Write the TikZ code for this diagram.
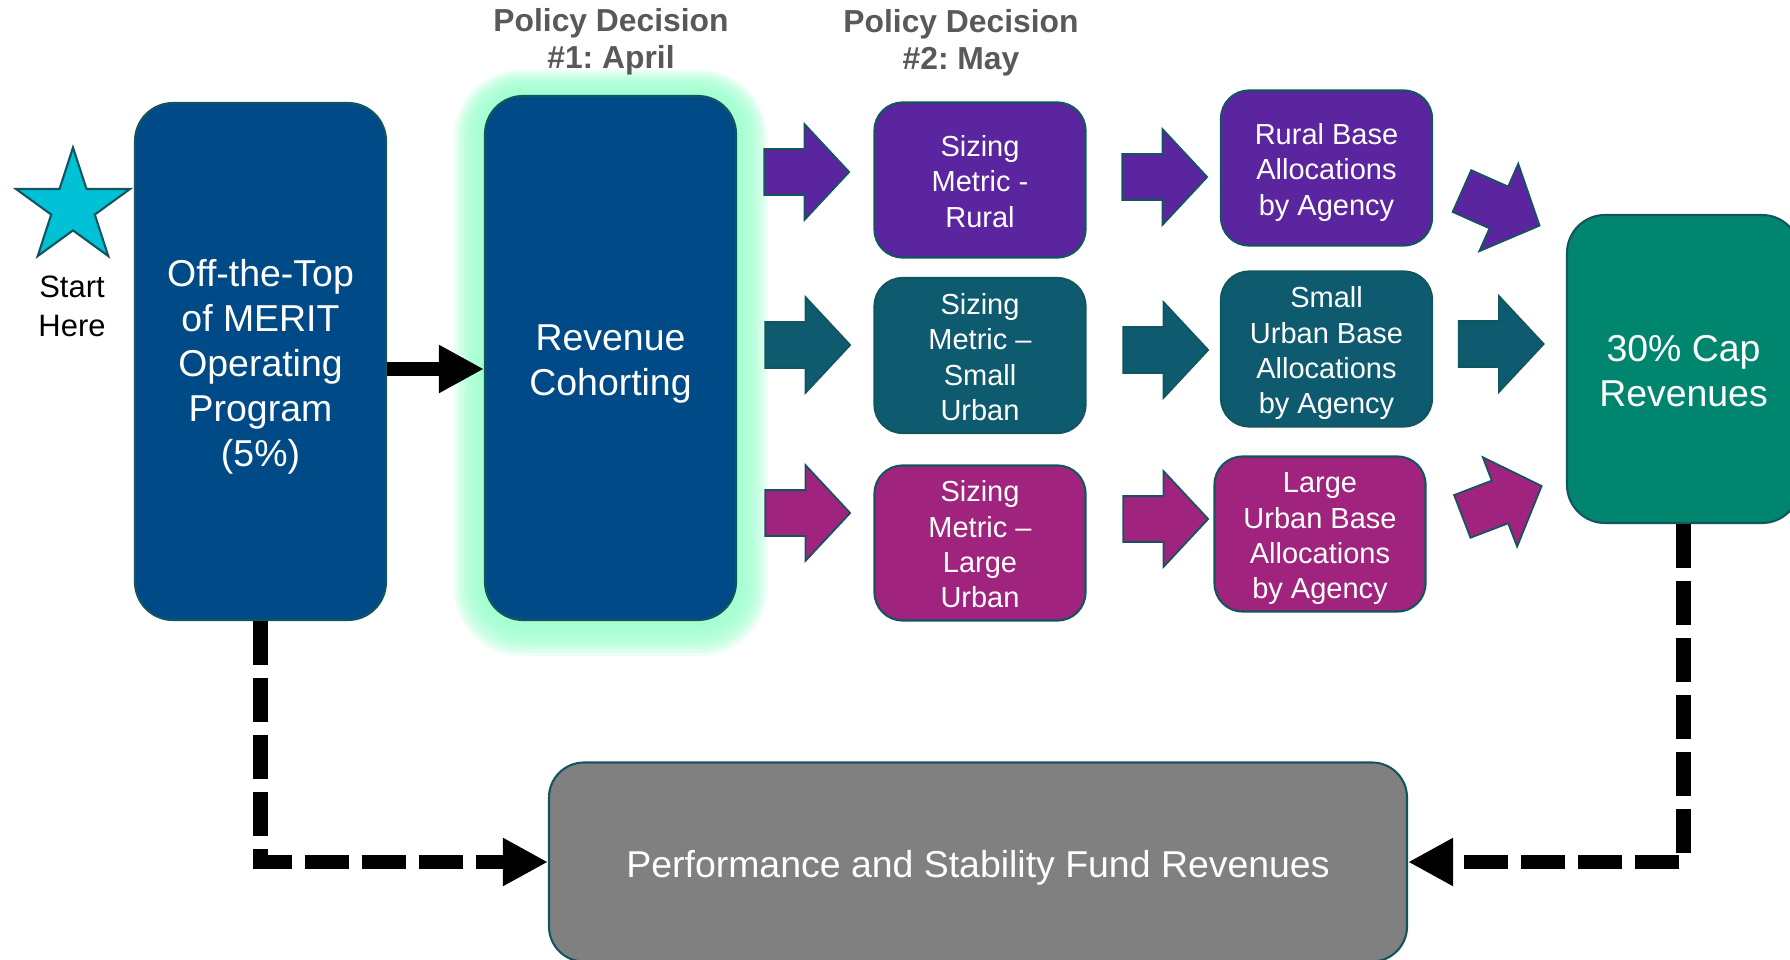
\documentclass[tikz,border=0pt]{standalone}
\usepackage{fontspec}
\setmainfont{Liberation Sans}
\frenchspacing
\usetikzlibrary{shapes.geometric,shapes.arrows,arrows.meta,backgrounds}

\definecolor{navy}{HTML}{004B87}
\definecolor{ruralpurple}{HTML}{5B25A0}
\definecolor{smallteal}{HTML}{0E5B70}
\definecolor{largemag}{HTML}{A0237D}
\definecolor{capgreen}{HTML}{00866F}
\definecolor{fundgray}{HTML}{808080}
\definecolor{edge}{HTML}{12555F}
\definecolor{starcyan}{HTML}{00C1D5}
\definecolor{glow}{HTML}{99FFCC}
\definecolor{policygray}{HTML}{595959}

\newcommand{\bigtxt}{\fontsize{21.3pt}{25.6pt}\selectfont}
\newcommand{\boxtxt}{\fontsize{16.5pt}{20.1pt}\selectfont}
\newcommand{\starttxt}{\fontsize{17.6pt}{22.2pt}\selectfont}
\newcommand{\policytxt}{\fontsize{18.1pt}{21.1pt}\selectfont\bfseries}
\newcommand{\tstrut}{\rule{0pt}{1.075em}}

\tikzstyle{bigbox} = [rectangle, draw=edge, line width=1.2pt, text=white,
    execute at end node={\rule[-0.25em]{0pt}{0pt}},
    align=center, font=\bigtxt, inner sep=0pt, rounded corners=0.76cm]
\tikzstyle{metric} = [rectangle, draw=edge, line width=1.2pt, text=white,
    execute at end node={\rule[-0.25em]{0pt}{0pt}},
    align=center, font=\boxtxt, inner sep=0pt, minimum width=4.22cm,
    minimum height=3.1cm, rounded corners=0.56cm]
\tikzstyle{blockarrow} = [single arrow, draw=edge, line width=1pt, inner xsep=0pt,
    inner ysep=0.44cm, minimum height=1.7cm, single arrow head extend=0.5cm,
    single arrow tip angle=94]
\tikzstyle{flow} = [line width=7.4pt, -{Triangle[length=0.9cm,width=0.9cm]}]
\tikzstyle{feedback} = [line width=8.5pt, dash pattern=on 0.88cm off 0.26cm,
    -{Triangle[length=0.9cm,width=0.9cm]}]

\begin{document}
\begin{tikzpicture}
 \useasboundingbox (0,0) rectangle (35.8,-19.2);
 % start marker
 \node [star, star points=5, star point ratio=2.618, minimum size=2.4cm, inner sep=0pt,
    draw=edge, line width=1.2pt, fill=starcyan] (star) at (1.46,-4.15) {};
 \node [font=\starttxt, align=center] (start) at (1.44,-6.12) {Start\\Here};
 % main column
 \node [bigbox, fill=navy, minimum width=5.02cm, minimum height=10.34cm] (offtop) at (5.21,-7.23)
    {\tstrut Off-the-Top\\of MERIT\\Operating\\Program\\(5\%)};
 \node [bigbox, fill=navy, minimum width=5.02cm, minimum height=10.48cm] (revenue) at (12.21,-7.16)
    {\tstrut Revenue\\Cohorting};
 \begin{scope}[on background layer]
  \foreach \g in {1,...,10} {
   \pgfmathsetmacro{\gr}{0.76+0.06*\g}
   \fill [glow, opacity=0.2, rounded corners=\gr cm]
     ([shift={(-0.06*\g,0.05*\g)}]revenue.north west) rectangle ([shift={(0.06*\g,-0.07*\g)}]revenue.south east);
  }
 \end{scope}
 \node [font=\policytxt, text=policygray, align=center] (pd1) at (12.22,-0.83) {Policy Decision\\\#1: April};
 \node [font=\policytxt, text=policygray, align=center] (pd2) at (19.22,-0.86) {Policy Decision\\\#2: May};
 % sizing metrics
 \node [metric, fill=ruralpurple] (sizerural) at (19.6,-3.6) {\tstrut Sizing\\Metric -\\Rural};
 \node [metric, fill=smallteal] (sizesmall) at (19.6,-7.11) {\tstrut Sizing\\Metric --\\Small\\Urban};
 \node [metric, fill=largemag] (sizelarge) at (19.6,-10.86) {\tstrut Sizing\\Metric --\\Large\\Urban};
 % base allocations
 \node [metric, fill=ruralpurple] (baserural) at (26.53,-3.36) {\tstrut Rural Base\\Allocations\\by Agency};
 \node [metric, fill=smallteal] (basesmall) at (26.53,-6.98) {\tstrut Small\\Urban Base\\Allocations\\by Agency};
 \node [metric, fill=largemag] (baselarge) at (26.4,-10.68) {\tstrut Large\\Urban Base\\Allocations\\by Agency};
 % totals
 \node [bigbox, fill=capgreen, minimum width=4.66cm, minimum height=6.16cm] (cap) at (33.67,-7.38)
    {\tstrut 30\% Cap\\Revenues};
 \node [bigbox, fill=fundgray, minimum width=17.16cm, minimum height=3.98cm, rounded corners=0.7cm] (fund)
    at (19.56,-17.24) {\tstrut Performance and Stability Fund Revenues};
 % block arrows
 \node [blockarrow, fill=ruralpurple] (ra1) at (15.92,-3.44) {};
 \node [blockarrow, fill=ruralpurple] (ra2) at (23.08,-3.54) {};
 \node [blockarrow, fill=ruralpurple, rotate=-24] (ra3) at (29.82,-4.08) {};
 \node [blockarrow, fill=smallteal] (sa1) at (15.94,-6.9) {};
 \node [blockarrow, fill=smallteal] (sa2) at (23.1,-7.0) {};
 \node [blockarrow, fill=smallteal] (sa3) at (29.81,-6.88) {};
 \node [blockarrow, fill=largemag] (la1) at (15.94,-10.26) {};
 \node [blockarrow, fill=largemag] (la2) at (23.1,-10.38) {};
 \node [blockarrow, fill=largemag, rotate=21] (la3) at (29.84,-10.1) {};
 % connectors
 \path ([yshift=-0.15cm]offtop.east) coordinate (fs);
 \draw [flow] (fs) -- (fs -| revenue.west);
 \draw [feedback] (offtop.south) |- (fund.west);
 \draw [feedback] (cap.south) |- (fund.east);
\end{tikzpicture}
\end{document}
